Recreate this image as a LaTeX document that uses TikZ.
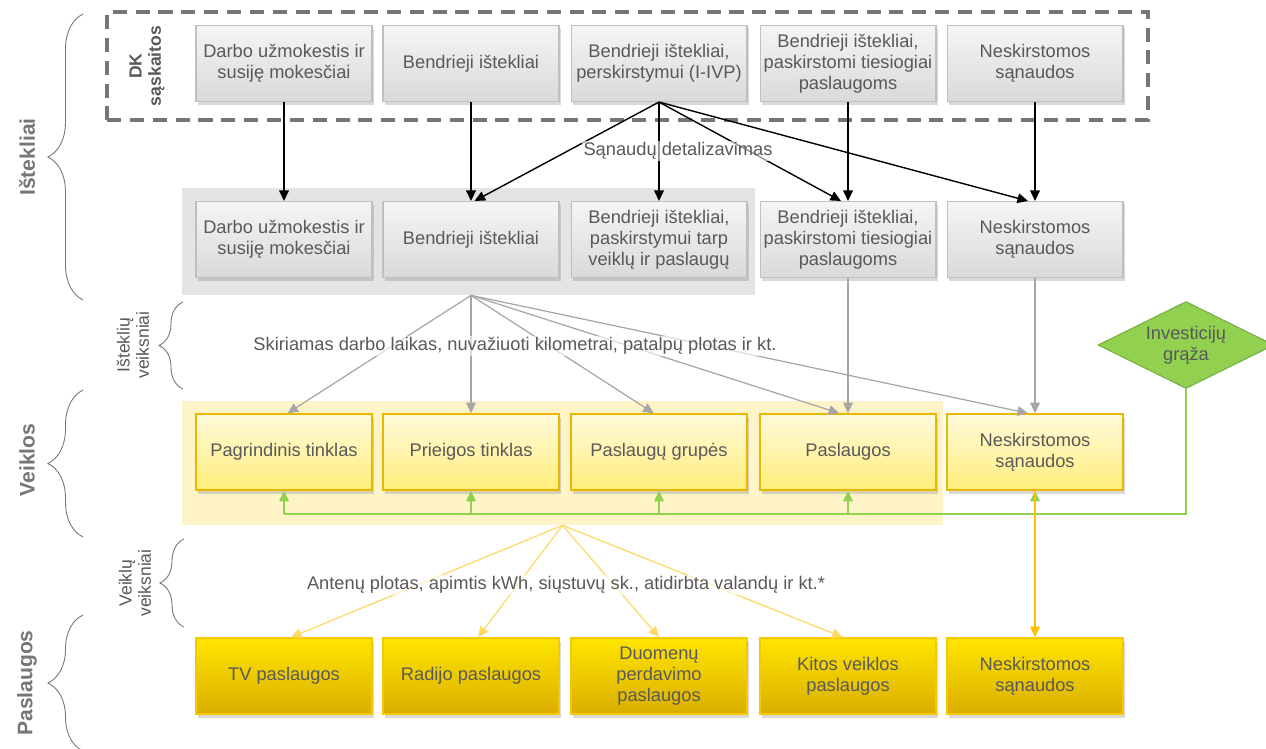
\documentclass[tikz,border=0pt]{standalone}
\usepackage{fontspec}
\setmainfont{Liberation Sans}
\usetikzlibrary{arrows.meta,shapes.geometric,shadows,decorations.pathreplacing}
\definecolor{txtgray}{HTML}{595959}
\definecolor{lvlgray}{HTML}{767676}
\definecolor{boxline}{HTML}{BFBFBF}
\definecolor{graytop}{HTML}{F5F5F5}
\definecolor{graybot}{HTML}{D9D9D9}
\definecolor{bggray}{HTML}{E4E4E4}
\definecolor{bgyellow}{HTML}{FFF4C8}
\definecolor{yelline}{HTML}{E8B800}
\definecolor{yeltop}{HTML}{FFFADC}
\definecolor{yelbot}{HTML}{FFEE7A}
\definecolor{goldline}{HTML}{F7C800}
\definecolor{goldtop}{HTML}{FFE500}
\definecolor{goldbot}{HTML}{DAAE00}
\definecolor{invgreen}{HTML}{92D050}
\definecolor{invline}{HTML}{72B043}
\definecolor{arrowgray}{HTML}{A6A6A6}
\definecolor{arrowyel}{HTML}{FFD966}
\definecolor{arrowgold}{HTML}{FFC000}
\newcommand{\boxfont}{\fontsize{10.4}{12}\selectfont}

\begin{document}
\begin{tikzpicture}[x=0.02cm, y=-0.02cm,
costbox/.style={draw=boxline, line width=0.6pt, top color=graytop, bottom color=graybot, minimum width=3.52cm, minimum height=1.52cm, inner xsep=1pt, align=center, text=txtgray, font=\boxfont, drop shadow={shadow xshift=1.2pt, shadow yshift=-2pt, opacity=0.3}},
actbox/.style={costbox, draw=yelline, line width=0.9pt, top color=yeltop, bottom color=yelbot},
servbox/.style={costbox, draw=goldline, line width=0.9pt, top color=goldtop, bottom color=goldbot},
backbox/.style={inner sep=0pt, draw=none},
dkframestyle/.style={draw=lvlgray, line width=1.9pt, dash pattern=on 8pt off 5pt, inner sep=0pt, minimum width=20.82cm, minimum height=2.16cm},
invdiamond/.style={diamond, aspect=2, inner sep=0pt, minimum width=3.52cm, minimum height=1.74cm, fill=invgreen, draw=invline, line width=0.6pt, align=center, text=txtgray, font=\boxfont},
blackarrow/.style={draw=black, line width=0.8pt, -{Triangle[length=6pt,width=5.5pt]}},
grayarrow/.style={draw=arrowgray, line width=0.7pt, -{Triangle[length=6pt,width=5.5pt]}},
yelarrow/.style={draw=arrowyel, line width=0.7pt, -{Triangle[length=6pt,width=5.5pt]}},
goldarrow/.style={draw=arrowgold, line width=0.7pt, -{Triangle[length=6pt,width=5.5pt]}},
greenline/.style={draw=invgreen, line width=0.8pt},
greenarrow/.style={greenline, -{Triangle[length=6pt,width=5.5pt]}},
lbl/.style={text=txtgray, font=\boxfont, fill=white, fill opacity=0.6, text opacity=1, inner sep=1pt},
sidebrace/.style={draw=lvlgray, line width=0.5pt, decorate, decoration={brace, amplitude=0.7cm}},
smallbrace/.style={draw=lvlgray, line width=0.5pt, decorate, decoration={brace, amplitude=0.48cm}},
levelname/.style={rotate=90, text=lvlgray, font=\fontsize{12}{14}\selectfont\bfseries},
driver/.style={rotate=90, align=center, text=txtgray, font=\fontsize{10}{11}\selectfont},
]
\useasboundingbox (0,0) rectangle (1266,748);
%Backgrounds
\node[backbox, fill=bggray, minimum width=11.46cm, minimum height=2.14cm] at (468.5,241.5) (istbg) {};
\node[backbox, fill=bgyellow, minimum width=15.22cm, minimum height=2.48cm] at (562.5,463) (veikbg) {};
\node[dkframestyle] at (627.5,66) (dkframe) {};
%Nodes
\node[costbox] at (284,63.5) (dk1) {Darbo užmokestis ir\\susiję mokesčiai};
\node[costbox] at (471,63.5) (dk2) {Bendrieji ištekliai};
\node[costbox] at (659,63.5) (dk3) {Bendrieji ištekliai,\\perskirstymui (I-IVP)};
\node[costbox] at (848,63.5) (dk4) {Bendrieji ištekliai,\\paskirstomi tiesiogiai\\paslaugoms};
\node[costbox] at (1035,63.5) (dk5) {Neskirstomos\\sąnaudos};
\node[costbox] at (284,239.5) (ist1) {Darbo užmokestis ir\\susiję mokesčiai};
\node[costbox] at (471,239.5) (ist2) {Bendrieji ištekliai};
\node[costbox] at (659,239.5) (ist3) {Bendrieji ištekliai,\\paskirstymui tarp\\veiklų ir paslaugų};
\node[costbox] at (848,239.5) (ist4) {Bendrieji ištekliai,\\paskirstomi tiesiogiai\\paslaugoms};
\node[costbox] at (1035,239.5) (ist5) {Neskirstomos\\sąnaudos};
\node[actbox] at (284,452) (veik1) {Pagrindinis tinklas};
\node[actbox] at (471,452) (veik2) {Prieigos tinklas};
\node[actbox] at (659,452) (veik3) {Paslaugų grupės};
\node[actbox] at (848,452) (veik4) {Paslaugos};
\node[actbox] at (1035,452) (veik5) {Neskirstomos\\sąnaudos};
\node[servbox] at (284,676) (pasl1) {TV paslaugos};
\node[servbox] at (471,676) (pasl2) {Radijo paslaugos};
\node[servbox] at (659,676) (pasl3) {Duomenų\\perdavimo\\paslaugos};
\node[servbox] at (848,676) (pasl4) {Kitos veiklos\\paslaugos};
\node[servbox] at (1035,676) (pasl5) {Neskirstomos\\sąnaudos};
\node[invdiamond] at (1186,345) (inv) {Investicijų\\grąža};
%Side labels
\node[levelname] at (27,157) (lvlist) {Ištekliai};
\node[levelname] at (27,460) (lvlveik) {Veiklos};
\node[levelname] at (27,683) (lvlpasl) {Paslaugos};
\node[driver, font=\fontsize{10}{11}\selectfont\bfseries] at (147,66) (dklbl) {DK\\sąskaitos};
\node[driver] at (133,345) (istdrv) {Išteklių\\veiksniai};
\node[driver] at (135,583) (veikdrv) {Veiklų\\veiksniai};
\draw[sidebrace] (83,300) -- (83,14);
\draw[sidebrace] (83,537) -- (83,390);
\draw[sidebrace] (83,751) -- (83,615);
\draw[smallbrace] (183,389) -- (183,302);
\draw[smallbrace] (184,627) -- (184,539);
%Lines
\draw[blackarrow] (dk1) -- (ist1);
\draw[blackarrow] (dk2) -- (ist2);
\draw[blackarrow] (dk3.south) -- ([xshift=2pt]ist2.north);
\draw[blackarrow] (dk3) -- (ist3);
\draw[blackarrow] (dk3.south) -- ([xshift=-4pt]ist4.north);
\draw[blackarrow] (dk3.south) -- ([xshift=-4pt]ist5.north);
\draw[blackarrow] (dk4) -- (ist4);
\draw[blackarrow] (dk5) -- (ist5);
\coordinate (istout) at (istbg.south -| ist2);
\draw[grayarrow] (istout) -- ([xshift=2pt]veik1.north);
\draw[grayarrow] (istout) -- (veik2.north);
\draw[grayarrow] (istout) -- ([xshift=-3pt]veik3.north);
\draw[grayarrow] (istout) -- ([xshift=-5pt]veik4.north);
\draw[grayarrow] (istout) -- ([xshift=-4pt]veik5.north);
\draw[grayarrow] (ist4) -- (veik4);
\draw[grayarrow] (ist5) -- (veik5);
\coordinate (gcorner) at (1186,514);
\coordinate (gend) at (284,514);
\draw[greenline] (inv.south) -- (gcorner) -- (gend);
\draw[greenarrow] (veik1 |- gend) -- (veik1);
\draw[greenarrow] (veik2 |- gend) -- (veik2);
\draw[greenarrow] (veik3 |- gend) -- (veik3);
\draw[greenarrow] (veik4 |- gend) -- (veik4);
\draw[greenarrow] (veik5 |- gend) -- (veik5);
\coordinate (veikout) at (veikbg.south);
\draw[yelarrow] (veikout) -- ([xshift=4pt]pasl1.north);
\draw[yelarrow] (veikout) -- ([xshift=4pt]pasl2.north);
\draw[yelarrow] (veikout) -- (pasl3.north);
\draw[yelarrow] (veikout) -- ([xshift=-3pt]pasl4.north);
\draw[goldarrow] (veik5) -- (pasl5);
%Labels
\node[lbl] at (678,151) (detal) {Sąnaudų detalizavimas};
\node[lbl] at (515,346) (istlbl) {Skiriamas darbo laikas, nuvažiuoti kilometrai, patalpų plotas ir kt.};
\node[lbl] at (566,585) (veiklbl) {Antenų plotas, apimtis kWh, siųstuvų sk., atidirbta valandų ir kt.*};
\end{tikzpicture}
\end{document}
